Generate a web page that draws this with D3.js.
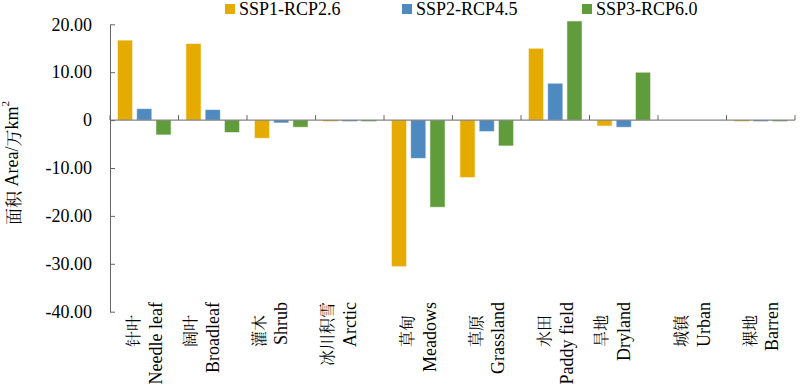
<!DOCTYPE html>
<html>
<head>
<meta charset="utf-8">
<script src="https://cdn.jsdelivr.net/npm/d3@7"></script>
<style>
  body { margin: 0; background: #fff; }
</style>
</head>
<body>
<svg id="chart"></svg>
<script>
// land-use categories (zh \n en), trailing "\n" = empty third line as in the original labels
const categories = ["针叶\nNeedle leaf", "阔叶\nBroadleaf\n", "灌木\nShrub\n", "冰川积雪\nArctic\n", "草甸\nMeadows",
                    "草原\nGrassland", "水田\nPaddy field", "旱地\nDryland\n", "城镇\nUrban", "裸地\nBarren"];
const seriesNames = ["SSP1-RCP2.6", "SSP2-RCP4.5", "SSP3-RCP6.0"];
const ssp1 = [16.7, 16.0, -3.8, -0.25, -30.6, -12.0, 15.0, -1.25, 0, -0.15];
const ssp2 = [2.4, 2.2, -0.6, -0.25, -8.0, -2.4, 7.7, -1.5, 0, -0.15];
const ssp3 = [-3.1, -2.6, -1.5, -0.2, -18.2, -5.4, 20.7, 10.0, 0, -0.1];
const yTicks = [20, 10, 0, -10, -20, -30, -40];
const colors = ["#E5AB00", "#4E89C0", "#609B3C"];

const LATIN = '"Liberation Serif"';
const CJK = '"Noto Serif CJK SC"';
const width = 800, height = 388;
const values = [ssp1, ssp2, ssp3];
const rows = categories.map((c, i) => ({cat: c, vals: values.map(v => v[i])}));

const svg = d3.select("#chart").attr("width", width).attr("height", height);

const x = d3.scaleBand().domain(categories).range([110, 795]);
const xs = d3.scaleBand().domain(seriesNames).range([7.4, x.bandwidth() - 7.4]).paddingInner(0.21);
const y = d3.scaleLinear().domain([-40, 20]).range([311.7, 24.3]);

// bars
const grp = svg.append("g").selectAll("g").data(rows).join("g")
  .attr("transform", d => `translate(${x(d.cat)},0)`);
grp.selectAll("rect").data(d => d.vals.map((v, k) => ({v, k})))
  .join("rect")
  .attr("x", d => xs(seriesNames[d.k]))
  .attr("width", xs.bandwidth())
  .attr("y", d => y(Math.max(0, d.v)))
  .attr("height", d => d.v === 0 ? 0 : Math.max(1.5, Math.abs(y(d.v) - y(0))))
  .attr("fill", d => colors[d.k])
  .attr("stroke", "#fff")
  .attr("stroke-opacity", 0.6)
  .attr("stroke-width", 1);

// y axis, ticks pointing inward
const yAxis = svg.append("g")
  .attr("transform", "translate(110,0)")
  .call(d3.axisLeft(y).tickValues(yTicks).tickSize(-5).tickSizeOuter(0).tickPadding(18)
    .tickFormat(d => d === 0 ? "0" : d.toFixed(2)));
yAxis.attr("font-family", null).attr("font-size", null);
yAxis.selectAll("path, line").attr("stroke", "#666");
yAxis.selectAll("text").attr("fill", "#000").attr("font-size", 18).style("font-family", LATIN);

// zero line with category ticks
svg.append("line")
  .attr("x1", x.range()[0]).attr("x2", x.range()[1])
  .attr("y1", y(0)).attr("y2", y(0))
  .attr("stroke", "#666");
svg.append("g").selectAll("line")
  .data(categories.map(c => x(c)).concat([x.range()[1]]))
  .join("line")
  .attr("x1", d => d).attr("x2", d => d)
  .attr("y1", y(0)).attr("y2", y(0) - 5)
  .attr("stroke", "#666");

// category labels, rotated, one text per line
const lineStep = 23;
const lab = svg.append("g").selectAll("g").data(categories).join("g");
lab.each(function(c) {
  const lines = c.split("\n");
  const cx = x(c) + x.bandwidth() / 2;
  lines.forEach((t, i) => {
    if (!t) return;
    const off = (i - (lines.length - 1) / 2) * lineStep;
    const zh = i === 0;
    const top = zh && t.length <= 2 ? 315 : 302;
    d3.select(this).append("text")
      .attr("transform", `translate(${cx + off},${top}) rotate(-90)`)
      .attr("text-anchor", "end")
      .attr("dominant-baseline", "central")
      .attr("font-size", zh ? 16 : 18)
      .style("font-family", zh ? CJK : LATIN)
      .text(t);
  });
});

// y axis title
const yt = svg.append("text")
  .attr("transform", "translate(12,163) rotate(-90)")
  .attr("text-anchor", "middle")
  .attr("dominant-baseline", "central")
  .attr("font-size", 18);
yt.append("tspan").style("font-family", CJK).attr("font-size", 17).text("面积 ");
yt.append("tspan").style("font-family", LATIN).text("Area/");
yt.append("tspan").style("font-family", CJK).attr("font-size", 17).text("万");
yt.append("tspan").style("font-family", LATIN).text("km");
yt.append("tspan").style("font-family", LATIN).attr("font-size", 11).attr("dy", -7).text("2");

// legend
const legendX = [225, 402, 582];
const leg = svg.append("g").selectAll("g").data(seriesNames).join("g")
  .attr("transform", (d, i) => `translate(${legendX[i]},4)`);
leg.append("rect").attr("width", 10).attr("height", 10).attr("fill", (d, i) => colors[i]);
leg.append("text").attr("x", 14).attr("y", 11).attr("font-size", 18)
  .style("font-family", LATIN).text(d => d);
</script>
</body>
</html>
